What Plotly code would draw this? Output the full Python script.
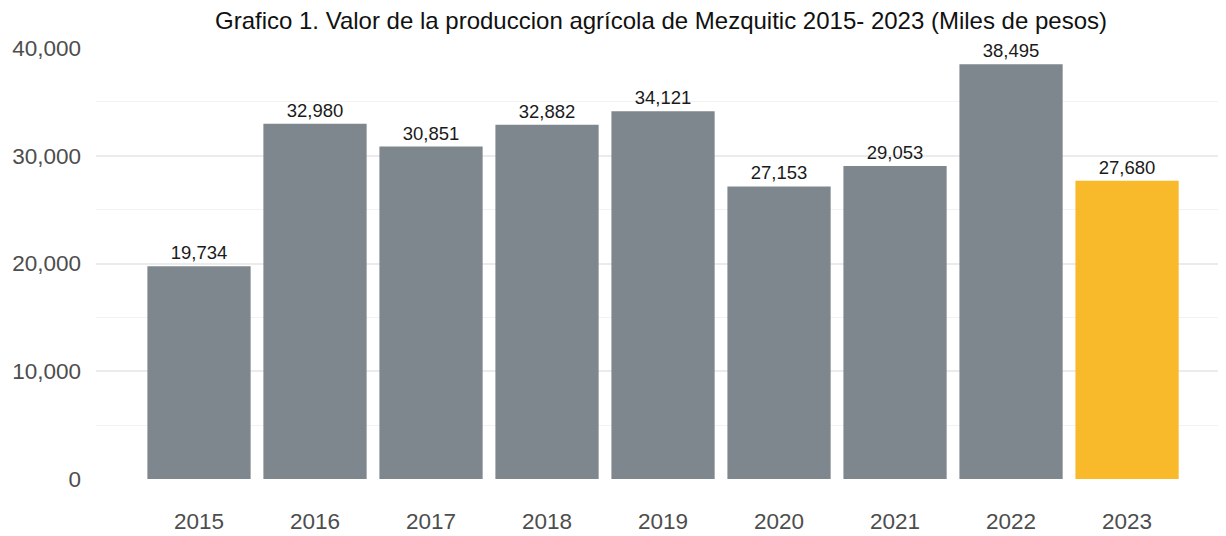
import plotly.graph_objects as go

years = ["2015", "2016", "2017", "2018", "2019", "2020", "2021", "2022", "2023"]
values = [19734, 32980, 30851, 32882, 34121, 27153, 29053, 38495, 27680]
colors = ["#7e878d"] * 8 + ["#f8b92b"]
labels = [f"{v:,}" for v in values]

fig = go.Figure(go.Bar(
    x=years, y=values, marker=dict(color=colors, line=dict(width=0)),
    width=0.89, text=labels, textposition="outside", cliponaxis=False,
    textfont=dict(size=18.5, color="#1a1a1a"),
))

# page body has an 8px default margin, so the figure is sized/offset to compensate
fig.update_layout(
    width=1218, height=528,
    margin=dict(l=88, r=0, t=40, b=57),
    plot_bgcolor="white", paper_bgcolor="white",
    font=dict(family="Arial, Liberation Sans, sans-serif"),
    title=dict(text="Grafico 1. Valor de la produccion agrícola de Mezquitic 2015- 2023 (Miles de pesos)",
               x=0.5, xref="paper", xanchor="center", y=1 - 12.5 / 528, yref="container", yanchor="middle",
               font=dict(size=24, color="#111")),
    showlegend=False,
)
fig.update_xaxes(
    range=[-0.888, 8.853], showgrid=False, zeroline=False, showline=False, automargin=False,
    tickfont=dict(size=22.5, color="#4d4d4d"), ticks="", ticklabelstandoff=26,
)
fig.update_yaxes(
    range=[0, 40000], tickvals=[0, 10000, 20000, 30000, 40000], automargin=False,
    tickformat=",", showgrid=True, gridcolor="#ebebeb", gridwidth=2,
    zeroline=False, showline=False, ticks="",
    minor=dict(tickvals=[5000, 15000, 25000, 35000], showgrid=True, gridcolor="#f2f2f2", gridwidth=1),
    tickfont=dict(size=22.5, color="#4d4d4d"), ticklabelstandoff=14,
)
fig.write_html("out.html")
